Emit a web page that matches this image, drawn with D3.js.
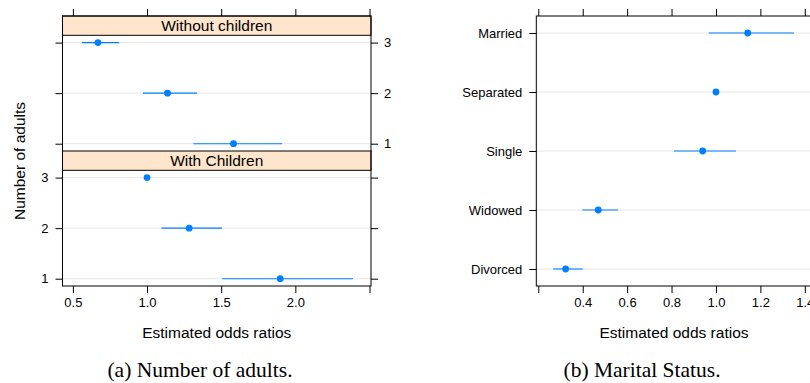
<!DOCTYPE html>
<html>
<head>
<meta charset="utf-8">
<script src="https://cdn.jsdelivr.net/npm/d3@7"></script>
<style>
	body { margin: 0; background: #fff; }
	svg { display: block; font-family: 'Liberation Sans', Arial, sans-serif; }
	.grid { stroke: #e6e6e6; stroke-width: 1; }
	.panel-box { fill: none; stroke: #000; stroke-width: 1; }
	.strip { fill: #ffe5cc; stroke: #000; stroke-width: 1; }
	.ci { stroke: #0080ff; stroke-width: 1.1; }
	.est { fill: #0080ff; }
	.tick-label { font-size: 13px; fill: #000; }
	.caption { font-family: 'Liberation Serif', 'Times New Roman', serif; font-size: 21.5px; }
</style>
</head>
<body>
<svg id="chart" width="810" height="383"></svg>
<script>
(function() {
	'use strict';

	// (a) number of adults, two household types
	var adultLevels = ['3', '2', '1'];
	var noChildEst = [0.669, 1.138, 1.583];
	var noChildLo = [0.561, 0.972, 1.313];
	var noChildHi = [0.812, 1.336, 1.911];
	var withChildEst = [1.0, 1.284, 1.898];
	var withChildLo = [1.0, 1.097, 1.507];
	var withChildHi = [1.0, 1.505, 2.388];
	var adultTicks = [0.5, 1.0, 1.5, 2.0, 2.5];
	var adultTickLabels = ['0.5', '1.0', '1.5', '2.0', ''];

	// (b) marital status
	var maritalLevels = ['Married', 'Separated', 'Single', 'Widowed', 'Divorced'];
	var maritalEst = [1.143, 1.0, 0.940, 0.470, 0.323];
	var maritalLo = [0.968, 1.0, 0.811, 0.398, 0.266];
	var maritalHi = [1.351, 1.0, 1.090, 0.559, 0.400];
	var maritalTicks = [0.2, 0.4, 0.6, 0.8, 1.0, 1.2, 1.4];
	var maritalTickLabels = ['', '0.4', '0.6', '0.8', '1.0', '1.2', '1.4'];

	var svg = d3.select('#chart');
	var TICK = 7;

	var rows = function(levels, est, lo, hi) {
		return levels.map(function(l, i) {
			return { level: l, est: est[i], lo: lo[i], hi: hi[i] };
		});
	};

	var drawDots = function(g, data, x, y, x0, x1) {
		g.selectAll('line.grid').data(data).enter().append('line')
			.attr('class', 'grid')
			.attr('x1', x0).attr('x2', x1)
			.attr('y1', function(d) { return y(d.level); })
			.attr('y2', function(d) { return y(d.level); });
		g.selectAll('line.ci').data(data.filter(function(d) { return d.hi > d.lo; }))
			.enter().append('line')
			.attr('class', 'ci')
			.attr('x1', function(d) { return x(d.lo); })
			.attr('x2', function(d) { return x(d.hi); })
			.attr('y1', function(d) { return y(d.level); })
			.attr('y2', function(d) { return y(d.level); });
		g.selectAll('circle').data(data).enter().append('circle')
			.attr('class', 'est')
			.attr('r', 3.4)
			.attr('cx', function(d) { return x(d.est); })
			.attr('cy', function(d) { return y(d.level); });
	};

	var xAxis = function(x, ticks, labels, y, orient) {
		var axis = (orient === 'top' ? d3.axisTop(x) : d3.axisBottom(x))
			.tickValues(ticks)
			.tickSize(TICK)
			.tickSizeOuter(0)
			.tickPadding(5)
			.tickFormat(function(d, i) { return labels ? labels[i] : ''; });
		var g = svg.append('g')
			.attr('transform', 'translate(0,' + y + ')')
			.call(axis);
		g.select('.domain').remove();
		g.selectAll('.tick line').attr('stroke', '#000');
		g.selectAll('.tick text').attr('class', 'tick-label')
			.attr('font-family', null).attr('font-size', null);
		g.attr('font-family', null).attr('font-size', null);
		return g;
	};

	var yAxis = function(y, x, orient, showLabels) {
		var axis = (orient === 'left' ? d3.axisLeft(y) : d3.axisRight(y))
			.tickSize(TICK)
			.tickSizeOuter(0)
			.tickPadding(orient === 'left' ? 7 : 6)
			.tickFormat(function(d) { return showLabels ? d : ''; });
		var g = svg.append('g')
			.attr('transform', 'translate(' + x + ',0)')
			.call(axis);
		g.select('.domain').remove();
		g.selectAll('.tick line').attr('stroke', '#000');
		g.selectAll('.tick text').attr('class', 'tick-label');
		g.attr('font-family', null).attr('font-size', null);
		return g;
	};

	// ---------- panel (a) ----------
	var aLeft = 62.5, aRight = 371, aTop = 16, aBottom = 286;
	var stripH = 19.3;
	var upperStripTop = aTop, upperStripBottom = aTop + stripH;
	var lowerStripTop = 151, lowerStripBottom = lowerStripTop + stripH;
	var pad = 7.3;

	var xa = d3.scaleLinear().domain([0.43, 2.51]).range([aLeft, aRight]);
	var yUpper = d3.scalePoint().domain(adultLevels)
		.range([upperStripBottom + pad, lowerStripTop - pad]);
	var yLower = d3.scalePoint().domain(adultLevels)
		.range([lowerStripBottom + pad, aBottom - pad]);

	var gA = svg.append('g');
	drawDots(gA.append('g'), rows(adultLevels, noChildEst, noChildLo, noChildHi),
		xa, yUpper, aLeft, aRight);
	drawDots(gA.append('g'), rows(adultLevels, withChildEst, withChildLo, withChildHi),
		xa, yLower, aLeft, aRight);

	[[upperStripTop, 'Without children'], [lowerStripTop, 'With Children']]
		.forEach(function(s) {
			gA.append('rect').attr('class', 'strip')
				.attr('x', aLeft).attr('y', s[0])
				.attr('width', aRight - aLeft).attr('height', stripH);
			gA.append('text')
				.attr('x', (aLeft + aRight) / 2)
				.attr('y', s[0] + stripH / 2 + 5.5)
				.attr('text-anchor', 'middle')
				.attr('font-size', '15.5px')
				.text(s[1]);
		});

	gA.append('rect').attr('class', 'panel-box')
		.attr('x', aLeft).attr('y', aTop)
		.attr('width', aRight - aLeft).attr('height', aBottom - aTop);

	xAxis(xa, adultTicks, null, aTop, 'top');
	xAxis(xa, adultTicks, adultTickLabels, aBottom, 'bottom');
	yAxis(yUpper, aLeft, 'left', false);
	yAxis(yUpper, aRight, 'right', true);
	yAxis(yLower, aLeft, 'left', true);
	yAxis(yLower, aRight, 'right', false);

	svg.append('text')
		.attr('transform', 'translate(25,161) rotate(-90)')
		.attr('text-anchor', 'middle')
		.attr('font-size', '15.5px')
		.text('Number of adults');
	svg.append('text')
		.attr('x', (aLeft + aRight) / 2).attr('y', 338)
		.attr('text-anchor', 'middle')
		.attr('font-size', '15.5px')
		.text('Estimated odds ratios');
	svg.append('text').attr('class', 'caption')
		.attr('x', 200).attr('y', 377)
		.attr('text-anchor', 'middle')
		.text('(a) Number of adults.');

	// ---------- panel (b) ----------
	var bLeft = 536.3, bRight = 827, bTop = 16, bBottom = 286;
	var xb = d3.scaleLinear().domain([0.191, 1.5]).range([bLeft, bRight]);
	var yb = d3.scalePoint().domain(maritalLevels).range([33, 269]);

	var gB = svg.append('g');
	drawDots(gB, rows(maritalLevels, maritalEst, maritalLo, maritalHi),
		xb, yb, bLeft, bRight);
	gB.append('rect').attr('class', 'panel-box')
		.attr('x', bLeft).attr('y', bTop)
		.attr('width', bRight - bLeft).attr('height', bBottom - bTop);

	xAxis(xb, maritalTicks, null, bTop, 'top');
	xAxis(xb, maritalTicks, maritalTickLabels, bBottom, 'bottom');
	yAxis(yb, bLeft, 'left', true);

	svg.append('text')
		.attr('x', 674).attr('y', 338)
		.attr('text-anchor', 'middle')
		.attr('font-size', '15.5px')
		.text('Estimated odds ratios');
	svg.append('text').attr('class', 'caption')
		.attr('x', 642).attr('y', 377)
		.attr('text-anchor', 'middle')
		.text('(b) Marital Status.');
})();
</script>
</body>
</html>
